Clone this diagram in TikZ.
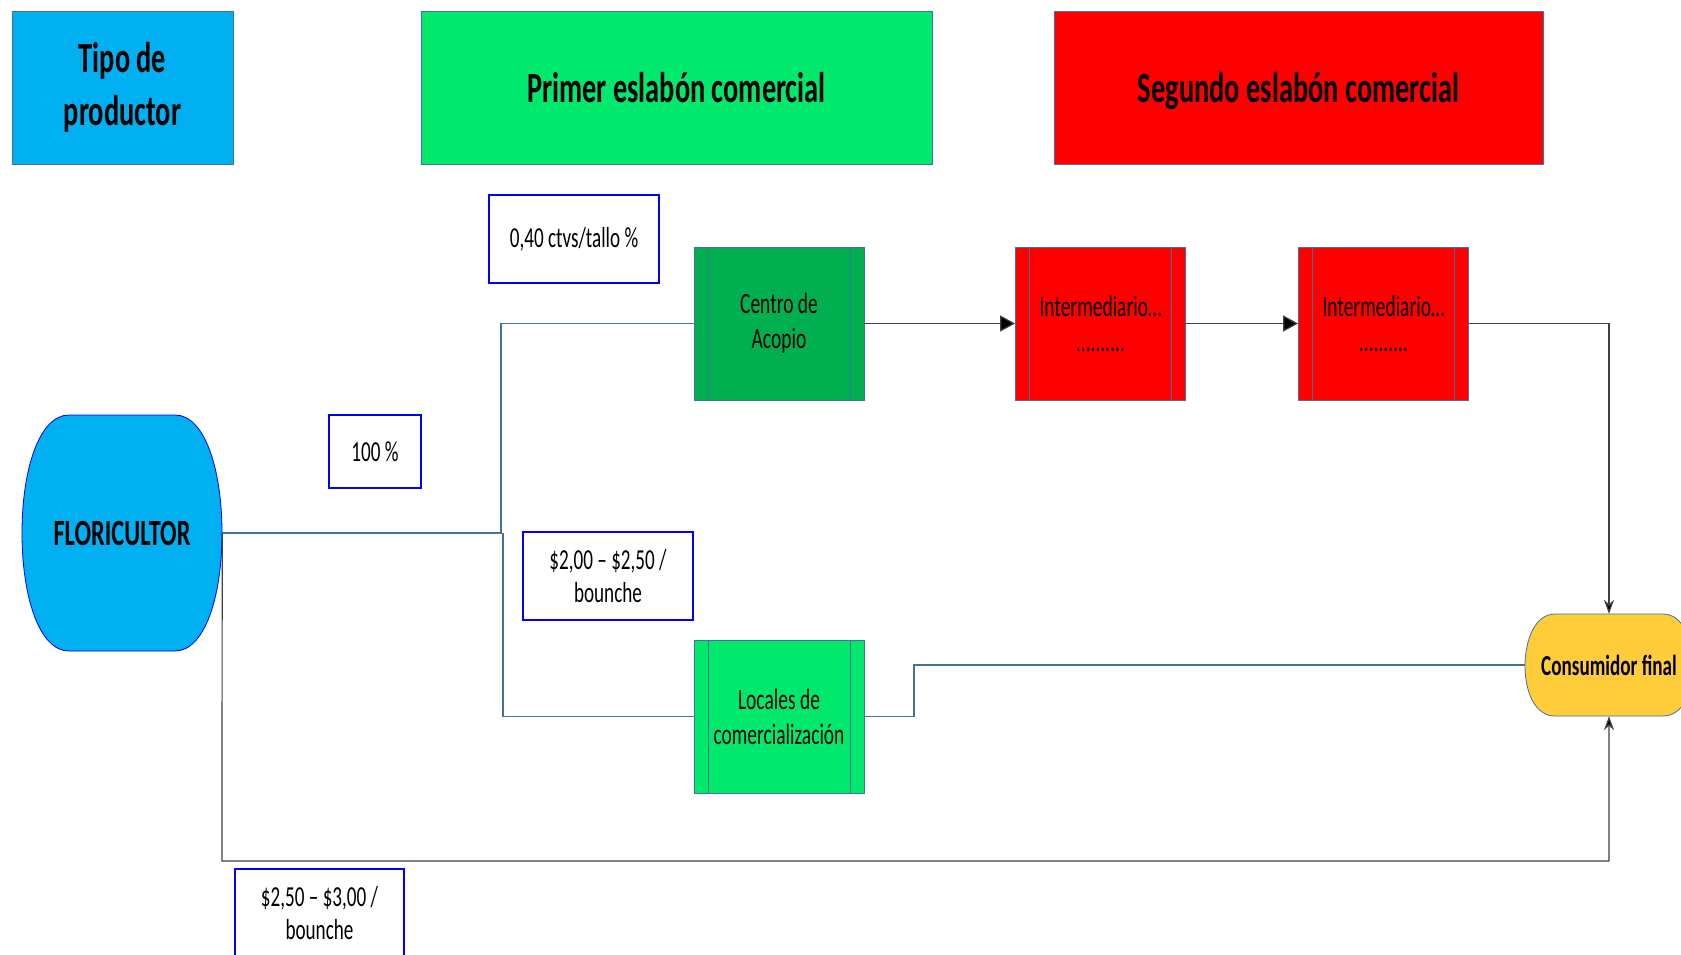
\documentclass[tikz,border=0pt]{standalone}
\usepackage{fontspec}
\setmainfont{Carlito}[FakeStretch=0.66]
\usetikzlibrary{arrows.meta}
\definecolor{cyanB}{RGB}{0,176,240}
\definecolor{greenL}{RGB}{0,233,108}
\definecolor{greenD}{RGB}{0,176,80}
\definecolor{redR}{RGB}{255,0,0}
\definecolor{yellowC}{RGB}{255,204,58}
\definecolor{edgeB}{RGB}{65,113,156}
\definecolor{lineG}{RGB}{64,64,64}
\tikzset{
  hdr/.style={draw=edgeB, line width=0.8pt, minimum width=#1, minimum height=153pt, inner sep=0pt, font=\fontsize{43}{53}\selectfont\bfseries, align=center},
  lbl/.style={draw=blue, line width=2pt, fill=white, inner sep=0pt, font=\fontsize{29}{33}\selectfont, align=center},
  proc/.style={draw=edgeB, line width=0.8pt, minimum width=170pt, minimum height=153pt, inner sep=0pt, font=\fontsize{29.5}{35}\selectfont, align=center,
    path picture={\draw[edgeB, line width=0.8pt] ([xshift=14pt]path picture bounding box.north west) -- ([xshift=14pt]path picture bounding box.south west);
                  \draw[edgeB, line width=0.8pt] ([xshift=-14pt]path picture bounding box.north east) -- ([xshift=-14pt]path picture bounding box.south east);}},
  conn/.style={edgeB, line width=1.2pt},
  darkc/.style={lineG, line width=1.2pt},
  bigtip/.style={-{Triangle[length=15pt,width=16pt,fill=black]}},
  smalltip/.style={-{Stealth[length=14pt,width=10pt,fill=black]}},
}
\begin{document}
\begin{tikzpicture}[x=1pt,y=-1pt]
\useasboundingbox[fill=white] (0,0) rectangle (1681,954);
% headers
\node[hdr=221pt, fill=cyanB] (tipo) at (122.5,87.5) {Tipo de\\productor};
\node[hdr=511pt, fill=greenL] (primer) at (676.5,87.5) {Primer eslabón comercial};
\node[hdr=489pt, fill=redR, text depth=0pt] (segundo) at (1298.5,87.5) {Segundo eslabón comercial};
% floricultor shape
\fill[cyanB, draw=blue, line width=0.8pt] (69,415) -- (175,415) .. controls (205,415) and (222,470) .. (222,533)
  .. controls (222,596) and (205,651) .. (175,651) -- (69,651) .. controls (39,651) and (22,596) .. (22,533)
  .. controls (22,470) and (39,415) .. (69,415) -- cycle;
\node[font=\fontsize{37}{44}\selectfont\bfseries, minimum width=200pt, minimum height=236pt, inner sep=0pt] (flor) at (122,533) {FLORICULTOR};
% consumidor shape
\fill[yellowC, draw=edgeB, line width=0.8pt] (1555,614) -- (1663,614) .. controls (1683,614) and (1693,640) .. (1693,666)
  .. controls (1693,692) and (1683,716) .. (1663,716) -- (1555,716) .. controls (1535,716) and (1525,692) .. (1525,666)
  .. controls (1525,640) and (1535,614) .. (1555,614) -- cycle;
\node[font=\fontsize{29}{34}\selectfont\bfseries, minimum width=168pt, minimum height=102pt, inner sep=0pt] (cons) at (1609,665) {Consumidor final};
% process boxes
\node[proc, fill=greenD] (centro) at (779,323.5) {Centro de\\Acopio};
\node[proc, fill=redR] (int1) at (1100.5,323.5) {Intermediario…\\..........};
\node[proc, fill=redR] (int2) at (1383.5,323.5) {Intermediario…\\..........};
\node[proc, fill=greenL] (locales) at (779,716.5) {Locales de\\comercialización};
% labels
\node[lbl, minimum width=170pt, minimum height=88pt] (ctvs) at (574,239) {0,40 ctvs/tallo \%};
\node[lbl, minimum width=92pt, minimum height=73pt] (pct) at (375,451.5) {100 \%};
\node[lbl, minimum width=170pt, minimum height=88pt] (p200) at (608,576) {\$2,00 – \$2,50 /\\bounche};
\node[lbl, minimum width=169pt, minimum height=88pt] (p250) at (319.5,913) {\$2,50 – \$3,00 /\\bounche};
% junction coordinates
\coordinate (j1) at (501,533);
\coordinate (j2) at (503,533);
\coordinate (j3) at (914,716.5);
\coordinate (j4) at (914,665);
\coordinate (j5) at (1609,323.5);
\coordinate (j6) at (222,861);
\coordinate (j7) at (1609,861);
% connectors
\draw[conn] (flor.east) -- (j1) |- (centro.west);
\draw[conn] (j2) |- (locales.west);
\draw[darkc, bigtip] (centro.east) -- (int1.west);
\draw[darkc, bigtip] (int1.east) -- (int2.west);
\draw[darkc, smalltip] (int2.east) -- (j5) -- (cons.north);
\draw[conn] (locales.east) -- (j3) -- (j4) -- (cons.west);
\draw[darkc, smalltip] (flor.east) -- (j6) -- (j7) -- (cons.south);
\end{tikzpicture}
\end{document}
